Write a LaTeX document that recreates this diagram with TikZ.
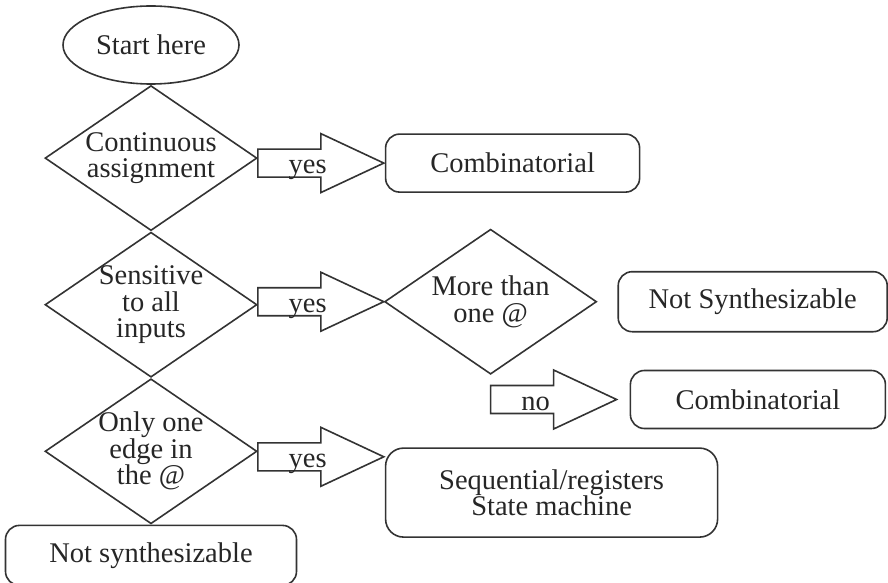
\documentclass[tikz,border=0pt]{standalone}
\usepackage{fontspec}
\setmainfont{Liberation Serif}
\usetikzlibrary{positioning,calc,shapes.geometric}

% fat "yes"/"no" arrow: tail point, tip name, label name, label
\newcommand{\fatarrow}[4]{%
  \draw[blockarrow] (#1) ++(0,14) -- ++(63,0) -- ++(0,15.5) -- ++(63,-29.5) coordinate (#2)
    -- ++(-63,-29.5) -- ++(0,15.5) -- ++(-63,0) -- cycle;
  \node[armlabel] (#3) at ($(#1)+(30,-10.5)$) {#4};
}

\begin{document}
\begin{tikzpicture}[x=1pt, y=1pt, line width=1.6pt,
    every node/.style={font=\fontsize{28.5}{26.5}\selectfont, text=black!85},
    terminal/.style={ellipse, draw=black!80, minimum width=176pt, minimum height=78pt, inner sep=0pt},
    decision/.style={diamond, draw=black!80, aspect=1.46, minimum width=212pt, minimum height=145pt, inner sep=-6pt, align=center},
    flowbox/.style={rectangle, draw=black!80, rounded corners=14pt, minimum height=58pt, align=center},
    blockarrow/.style={draw=black!80},
    armlabel/.style={anchor=base west, inner sep=0pt}]
    \useasboundingbox (0,0) rectangle (888,582);

    \node[terminal] (start) at (151,537) {Start here};
    \node[decision] (cont) [below=0pt of start] {Continuous\\assignment};
    \node[decision] (sens) [below=0pt of cont] {Sensitive\\to all\\inputs};
    \node[decision] (edge) [below=0pt of sens] {Only one\\edge in\\the @};
    \node[flowbox, minimum width=291pt, minimum height=60pt] (nsyn2) [below=0pt of edge] {Not synthesizable};

    % first row
    \coordinate (t1) at ($(cont.east)+(0,-5)$);
    \fatarrow{t1}{tip1}{yes1}{yes}
    \node[flowbox, minimum width=254pt] (comb1) [right=1pt of tip1] {Combinatorial};

    % second row
    \coordinate (t2) at ($(sens.east)+(0,3)$);
    \fatarrow{t2}{tip2}{yes2}{yes}
    \node[decision] (more) [right=0pt of tip2] {More than\\one @};
    \node[flowbox, minimum width=269pt, minimum height=60pt] (nsyn1) [right=20pt of more] {Not Synthesizable};

    \coordinate (t4) at ($(more.south)+(0,-24.5)$);
    \fatarrow{t4}{tip4}{no1}{no}
    \node[flowbox, minimum width=255pt] (comb2) [right=13pt of tip4] {Combinatorial};

    % third row
    \coordinate (t3) at ($(edge.east)+(0,-5.5)$);
    \fatarrow{t3}{tip3}{yes3}{yes}
    \node[flowbox, rounded corners=18pt, minimum width=332pt, minimum height=89pt, anchor=north west] (seq) at ($(tip3)+(1,9.5)$) {Sequential/registers\\State machine};
\end{tikzpicture}
\end{document}
